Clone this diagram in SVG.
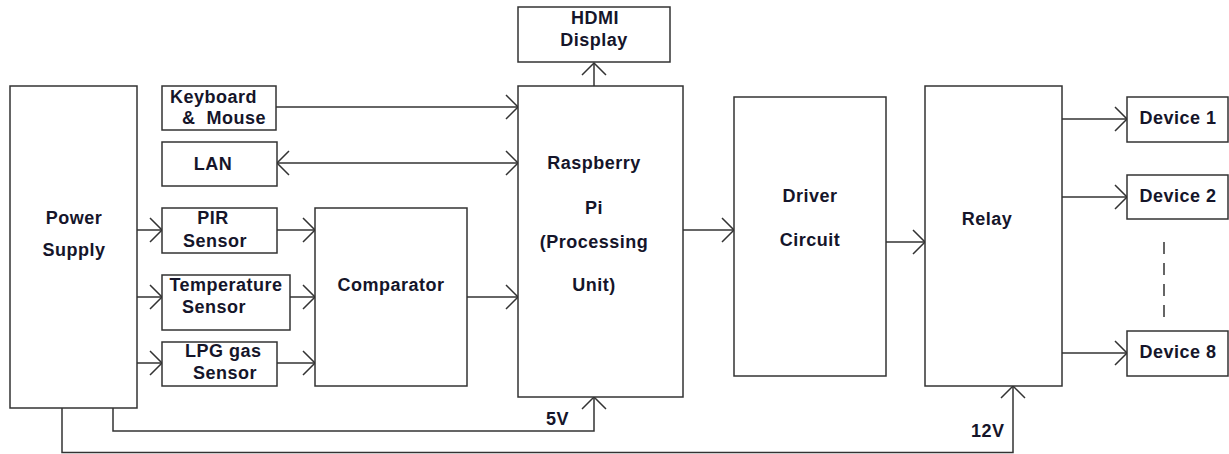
<svg xmlns="http://www.w3.org/2000/svg" width="1229" height="454" viewBox="0 0 1229 454">
<style>
.box{fill:#fff;stroke:#333;stroke-width:1.5}
.t{font-family:"Liberation Sans",Arial,sans-serif;font-weight:bold;font-size:18px;fill:#15152a;letter-spacing:0.5px}
.c{text-anchor:middle}
.ln{fill:none;stroke:#333;stroke-width:1.5}
.a{marker-end:url(#arr)}
</style>
<defs>
<marker id="arr" markerUnits="userSpaceOnUse" markerWidth="30" markerHeight="30" viewBox="-15 -15 30 30" refX="0" refY="0" orient="auto-start-reverse">
<path d="M-12,-12 L0,0 L-12,12" fill="none" stroke="#333" stroke-width="1.5"/>
</marker>
</defs>
<rect width="1229" height="454" fill="#fff"/>
<g id="connectors">
<line class="ln a" x1="276" y1="107" x2="518" y2="107"/>
<line class="ln a" x1="277" y1="163" x2="518" y2="163" marker-start="url(#arr)"/>
<line class="ln a" x1="137" y1="230" x2="162" y2="230"/>
<line class="ln a" x1="137" y1="297" x2="162" y2="297"/>
<line class="ln a" x1="137" y1="363" x2="162" y2="363"/>
<line class="ln a" x1="277" y1="230" x2="315" y2="230"/>
<line class="ln a" x1="290" y1="297" x2="315" y2="297"/>
<line class="ln a" x1="277" y1="363" x2="315" y2="363"/>
<line class="ln a" x1="467" y1="297" x2="518" y2="297"/>
<line class="ln a" x1="594" y1="86" x2="594" y2="63"/>
<line class="ln a" x1="683" y1="230" x2="734" y2="230"/>
<line class="ln a" x1="886" y1="242" x2="925" y2="242"/>
<line class="ln a" x1="1062" y1="119" x2="1127" y2="119"/>
<line class="ln a" x1="1062" y1="197" x2="1127" y2="197"/>
<line class="ln a" x1="1062" y1="353" x2="1127" y2="353"/>
<polyline class="ln a" points="113,408 113,431 594,431 594,397"/>
<polyline class="ln a" points="62,408 62,452.5 1013,452.5 1013,386"/>
<line class="ln" x1="1164" y1="242" x2="1164" y2="320" stroke-dasharray="12 9"/>
<text class="t" x="546" y="425">5V</text>
<text class="t" x="971" y="437">12V</text>
</g>
<g id="power"><rect class="box" x="10" y="86" width="127" height="322"/>
<text class="t c" x="74" y="224">Power</text><text class="t c" x="74" y="256">Supply</text></g>
<g id="keyboard"><rect class="box" x="162" y="86" width="114" height="44"/>
<text class="t" x="170" y="103">Keyboard</text><text class="t" x="182" y="124" xml:space="preserve">&amp;  Mouse</text></g>
<g id="lan"><rect class="box" x="162" y="142" width="115" height="44"/>
<text class="t c" x="213" y="170">LAN</text></g>
<g id="pir"><rect class="box" x="162" y="208" width="115" height="45"/>
<text class="t c" x="213" y="224">PIR</text><text class="t c" x="215" y="247">Sensor</text></g>
<g id="temp"><rect class="box" x="162" y="275" width="128" height="55"/>
<text class="t c" x="226" y="291">Temperature</text><text class="t" x="182" y="313">Sensor</text></g>
<g id="lpg"><rect class="box" x="162" y="342" width="115" height="44"/>
<text class="t" x="185" y="357">LPG gas</text><text class="t" x="193" y="379">Sensor</text></g>
<g id="comparator"><rect class="box" x="315" y="208" width="152" height="178"/>
<text class="t c" x="391" y="291">Comparator</text></g>
<g id="hdmi"><rect class="box" x="518" y="7" width="152" height="55"/>
<text class="t c" x="595" y="24">HDMI</text><text class="t c" x="594" y="46">Display</text></g>
<g id="pi"><rect class="box" x="518" y="86" width="165" height="311"/>
<text class="t c" x="594" y="169">Raspberry</text><text class="t c" x="594" y="214">Pi</text>
<text class="t c" x="594" y="248">(Processing</text><text class="t c" x="594" y="291">Unit)</text></g>
<g id="driver"><rect class="box" x="734" y="97" width="152" height="279"/>
<text class="t c" x="810" y="202">Driver</text><text class="t c" x="810" y="246">Circuit</text></g>
<g id="relay"><rect class="box" x="925" y="86" width="137" height="300"/>
<text class="t c" x="987" y="225">Relay</text></g>
<g id="device1"><rect class="box" x="1127" y="97" width="101" height="45"/>
<text class="t c" x="1178" y="124">Device 1</text></g>
<g id="device2"><rect class="box" x="1127" y="175" width="101" height="44"/>
<text class="t c" x="1178" y="202">Device 2</text></g>
<g id="device8"><rect class="box" x="1127" y="331" width="101" height="45"/>
<text class="t c" x="1178" y="358">Device 8</text></g>
</svg>
